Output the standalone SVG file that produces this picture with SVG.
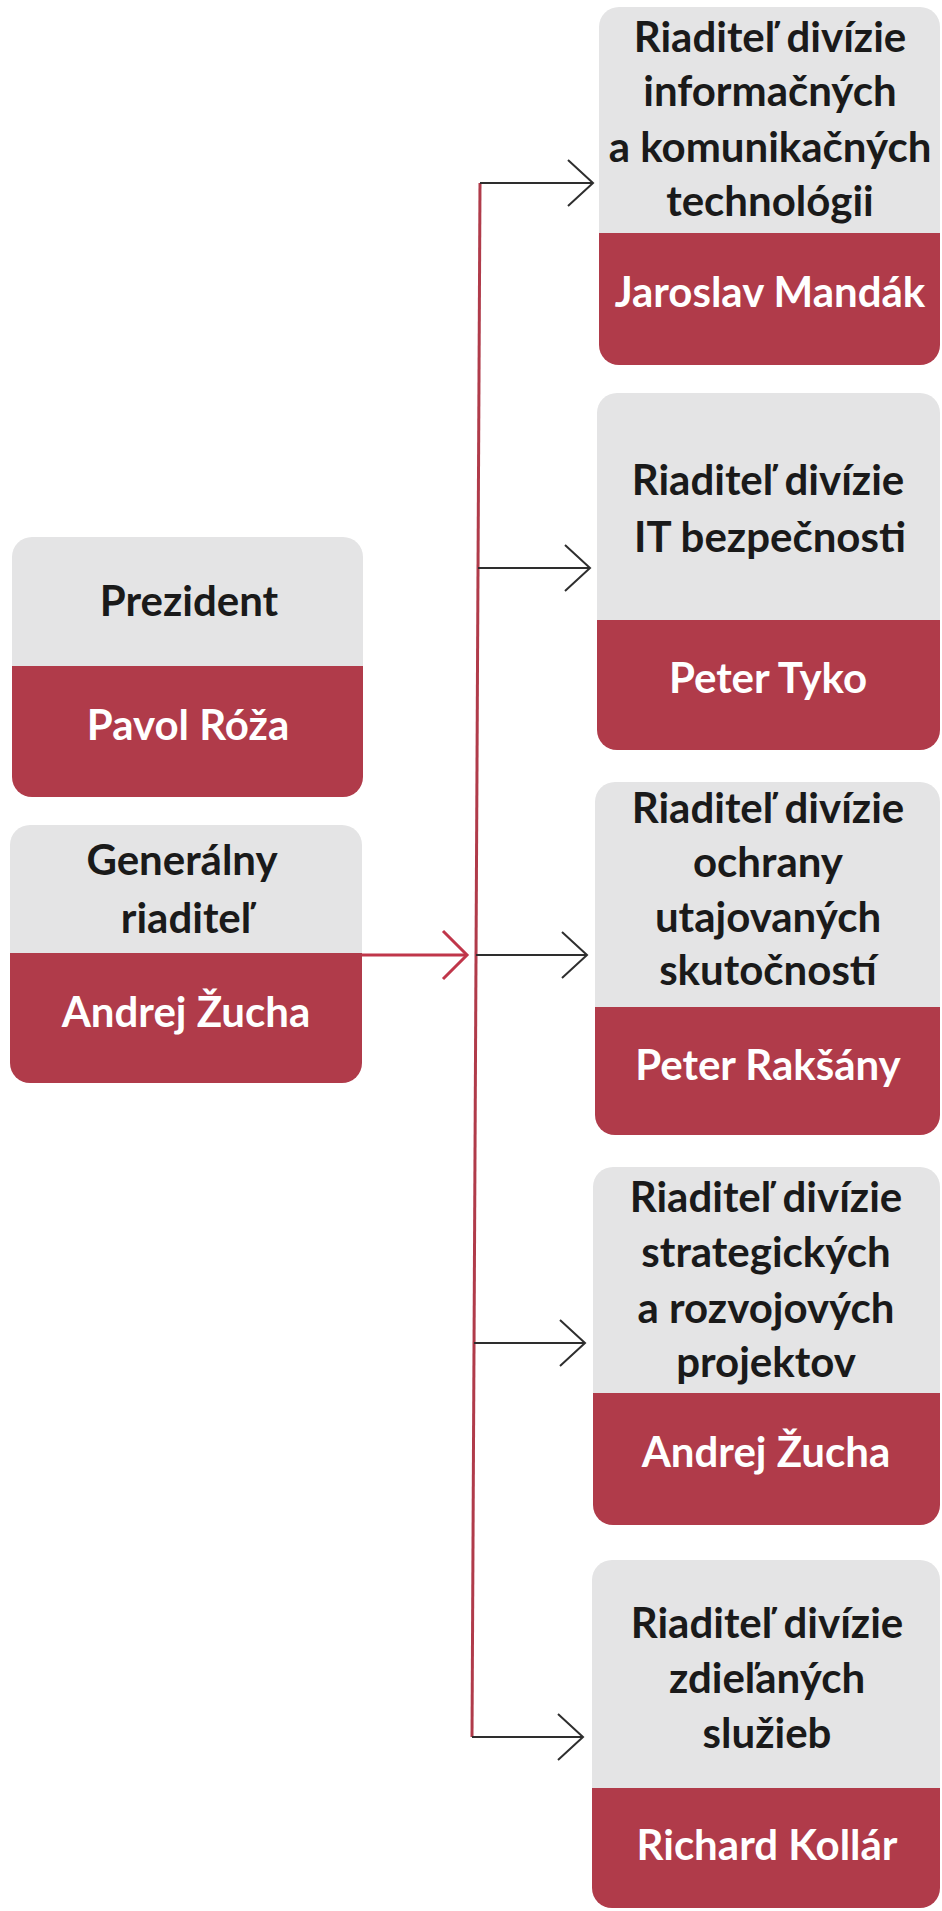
<svg xmlns="http://www.w3.org/2000/svg" width="942" height="1911" viewBox="0 0 942 1911">
<style>
.top{fill:#e4e4e5}
.bot{fill:#b03b4a}
.t{font-family:Lato,"Liberation Sans",sans-serif;font-weight:bold;font-size:42px;text-anchor:middle}
.dk{fill:#1a1a1a}
.wh{fill:#ffffff}
.br{stroke:#2e2e2e;stroke-width:2;fill:none}
.rl{stroke:#b03b4a;stroke-width:3;fill:none}
</style>
<defs>
<marker id="chev" markerUnits="userSpaceOnUse" markerWidth="30" markerHeight="50" viewBox="0 0 30 50" refX="27" refY="25" orient="auto">
<path d="M2,2 L27,25 L2,48" fill="none" stroke="#2e2e2e" stroke-width="2"/>
</marker>
<marker id="chevr" markerUnits="userSpaceOnUse" markerWidth="30" markerHeight="54" viewBox="0 0 30 54" refX="27" refY="27" orient="auto">
<path d="M3,3 L27,27 L3,51" fill="none" stroke="#c0364a" stroke-width="3"/>
</marker>
<clipPath id="c1"><rect x="12" y="537" width="351" height="260" rx="20"/></clipPath>
<clipPath id="c2"><rect x="10" y="825" width="352" height="258" rx="20"/></clipPath>
<clipPath id="c3"><rect x="599" y="7" width="341" height="358" rx="20"/></clipPath>
<clipPath id="c4"><rect x="597" y="393" width="343" height="357" rx="20"/></clipPath>
<clipPath id="c5"><rect x="595" y="782" width="345" height="353" rx="20"/></clipPath>
<clipPath id="c6"><rect x="593" y="1167" width="347" height="358" rx="20"/></clipPath>
<clipPath id="c7"><rect x="592" y="1560" width="348" height="348" rx="20"/></clipPath>
</defs>

<g id="connectors">
<line class="rl" x1="480" y1="183" x2="472" y2="1737"/>
<line x1="362" y1="955" x2="467" y2="955" stroke="#c0364a" stroke-width="3" marker-end="url(#chevr)"/>
<line class="br" x1="480" y1="183" x2="593" y2="183" marker-end="url(#chev)"/>
<line class="br" x1="478" y1="568" x2="590" y2="568" marker-end="url(#chev)"/>
<line class="br" x1="476" y1="955" x2="587" y2="955" marker-end="url(#chev)"/>
<line class="br" x1="474" y1="1343" x2="585" y2="1343" marker-end="url(#chev)"/>
<line class="br" x1="472" y1="1737" x2="583" y2="1737" marker-end="url(#chev)"/>
</g>

<g id="prezident">
<g clip-path="url(#c1)">
<rect class="top" x="12" y="537" width="351" height="129"/>
<rect class="bot" x="12" y="666" width="351" height="131"/>
</g>
<text class="t dk" x="189" y="616">Prezident</text>
<text class="t wh" x="188" y="740">Pavol Róža</text>
</g>

<g id="generalny">
<g clip-path="url(#c2)">
<rect class="top" x="10" y="825" width="352" height="128"/>
<rect class="bot" x="10" y="953" width="352" height="130"/>
</g>
<text class="t dk" x="182" y="875">Generálny</text>
<text class="t dk" x="186" y="933">riaditeľ</text>
<text class="t wh" x="186" y="1027">Andrej Žucha</text>
</g>

<g id="ikt">
<g clip-path="url(#c3)">
<rect class="top" x="599" y="7" width="341" height="226"/>
<rect class="bot" x="599" y="233" width="341" height="132"/>
</g>
<text class="t dk" x="770" y="52">Riaditeľ divízie</text>
<text class="t dk" x="770" y="106">informačných</text>
<text class="t dk" x="770" y="162">a komunikačných</text>
<text class="t dk" x="770" y="216">technológii</text>
<text class="t wh" x="770" y="307">Jaroslav Mandák</text>
</g>

<g id="itbez">
<g clip-path="url(#c4)">
<rect class="top" x="597" y="393" width="343" height="227"/>
<rect class="bot" x="597" y="620" width="343" height="130"/>
</g>
<text class="t dk" x="768" y="495">Riaditeľ divízie</text>
<text class="t dk" x="770" y="552">IT bezpečnosti</text>
<text class="t wh" x="768" y="693">Peter Tyko</text>
</g>

<g id="ochrana">
<g clip-path="url(#c5)">
<rect class="top" x="595" y="782" width="345" height="225"/>
<rect class="bot" x="595" y="1007" width="345" height="128"/>
</g>
<text class="t dk" x="768" y="823">Riaditeľ divízie</text>
<text class="t dk" x="768" y="877">ochrany</text>
<text class="t dk" x="768" y="932">utajovaných</text>
<text class="t dk" x="768" y="985">skutočností</text>
<text class="t wh" x="768" y="1080">Peter Rakšány</text>
</g>

<g id="strategia">
<g clip-path="url(#c6)">
<rect class="top" x="593" y="1167" width="347" height="226"/>
<rect class="bot" x="593" y="1393" width="347" height="132"/>
</g>
<text class="t dk" x="766" y="1212">Riaditeľ divízie</text>
<text class="t dk" x="766" y="1267">strategických</text>
<text class="t dk" x="766" y="1323">a rozvojových</text>
<text class="t dk" x="766" y="1377">projektov</text>
<text class="t wh" x="766" y="1467">Andrej Žucha</text>
</g>

<g id="sluzby">
<g clip-path="url(#c7)">
<rect class="top" x="592" y="1560" width="348" height="228"/>
<rect class="bot" x="592" y="1788" width="348" height="120"/>
</g>
<text class="t dk" x="767" y="1638">Riaditeľ divízie</text>
<text class="t dk" x="767" y="1693">zdieľaných</text>
<text class="t dk" x="767" y="1748">služieb</text>
<text class="t wh" x="767" y="1860">Richard Kollár</text>
</g>
</svg>
